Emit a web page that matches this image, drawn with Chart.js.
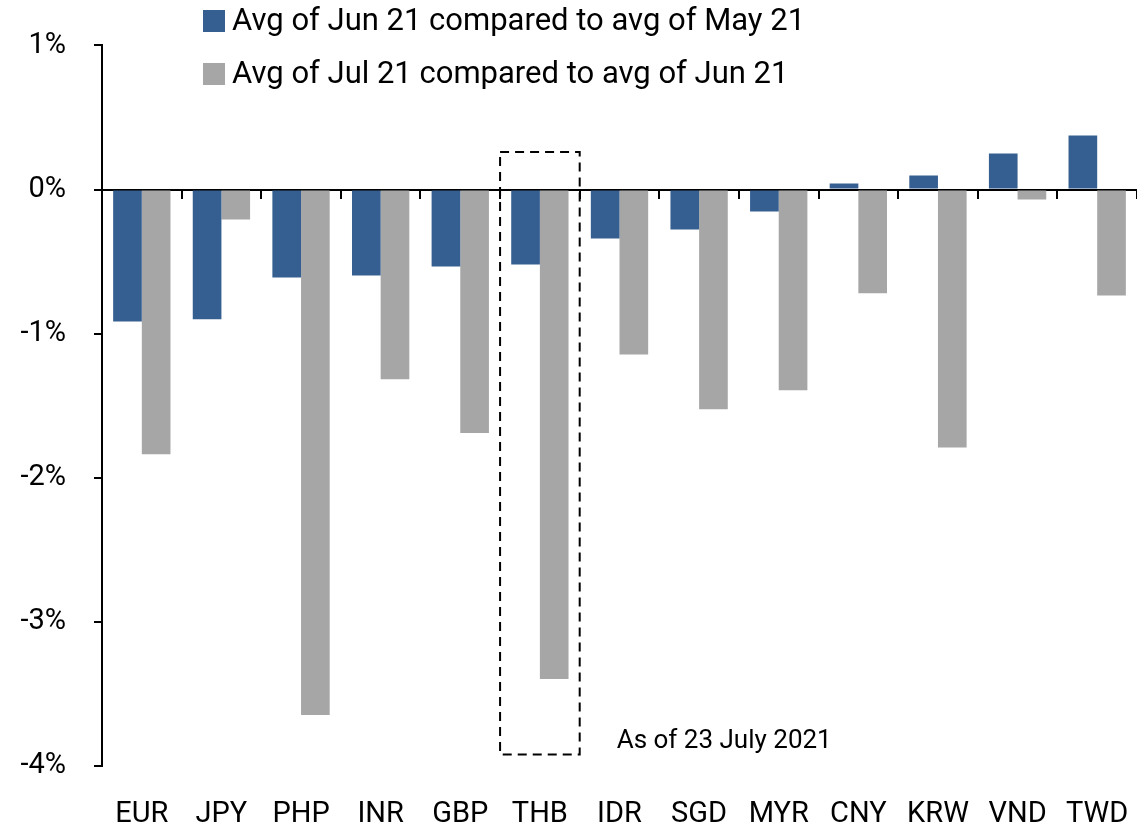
<!DOCTYPE html>
<html>
<head>
<meta charset="utf-8">
<script src="https://cdn.jsdelivr.net/npm/chart.js@4.4.1/dist/chart.umd.min.js"></script>
<style>
  html, body { margin: 0; padding: 0; background: #ffffff; }
  #wrap { width: 1137px; height: 833px; }
</style>
</head>
<body>
<div id="wrap"><canvas id="c" width="1137" height="833"></canvas></div>
<script>
const categories = ['EUR', 'JPY', 'PHP', 'INR', 'GBP', 'THB', 'IDR', 'SGD', 'MYR', 'CNY', 'KRW', 'VND', 'TWD'];
const juneVsMay = [-0.915, -0.90, -0.61, -0.596, -0.534, -0.52, -0.34, -0.277, -0.153, 0.042, 0.097, 0.25, 0.374];
const julyVsJune = [-1.837, -0.208, -3.646, -1.317, -1.69, -3.397, -1.144, -1.525, -1.393, -0.72, -1.79, -0.07, -0.735];
const seriesLabels = ['Avg of Jun 21 compared to avg of May 21', 'Avg of Jul 21 compared to avg of Jun 21'];
const yTickMin = -4;
const yTickMax = 1;
const yTickStep = 1;
const highlightCategory = 'THB';
const highlightRange = [0.26, -3.92];
const noteText = 'As of 23 July 2021';
const noteValue = -3.83;

const FONT = 'Roboto, "Open Sans", "DejaVu Sans", sans-serif';
const BLUE = '#365F91';
const GRAY = '#A6A6A6';

const legendPlugin = {
  id: 'customLegend',
  afterDraw(chart) {
    const ctx = chart.ctx;
    const x0 = chart.chartArea.left + 101;
    let yc = 21;
    ctx.save();
    ctx.font = '31px ' + FONT;
    ctx.textBaseline = 'middle';
    ctx.textAlign = 'left';
    chart.data.datasets.forEach(ds => {
      ctx.fillStyle = ds.backgroundColor;
      ctx.fillRect(x0, yc - 11, 22, 22);
      ctx.fillStyle = '#000000';
      ctx.fillText(ds.label, x0 + 29, yc + 1);
      yc += 53;
    });
    ctx.restore();
  }
};

const highlightPlugin = {
  id: 'highlightBox',
  afterDatasetsDraw(chart) {
    const xs = chart.scales.x, ys = chart.scales.y;
    const idx = categories.indexOf(highlightCategory);
    const half = xs.width / categories.length / 2;
    const cx = xs.getPixelForValue(idx);
    const left = cx - half, right = cx + half;
    const top = ys.getPixelForValue(highlightRange[0]);
    const bottom = ys.getPixelForValue(highlightRange[1]);
    const ctx = chart.ctx;
    ctx.save();
    ctx.strokeStyle = '#000000';
    ctx.lineWidth = 2;
    ctx.setLineDash([9, 6]);
    ctx.strokeRect(left, top, right - left, bottom - top);
    ctx.setLineDash([]);
    ctx.fillStyle = '#000000';
    ctx.font = '26px ' + FONT;
    ctx.textBaseline = 'middle';
    ctx.textAlign = 'left';
    ctx.fillText(noteText, right + 37, ys.getPixelForValue(noteValue));
    ctx.restore();
  }
};

function noPad(scale) { scale.paddingLeft = 0; scale.paddingRight = 0; }

new Chart(document.getElementById('c'), {
  type: 'bar',
  data: {
    labels: categories,
    datasets: [
      { label: seriesLabels[0], data: juneVsMay, backgroundColor: BLUE, xAxisID: 'x', yAxisID: 'y', borderWidth: 0 },
      { label: seriesLabels[1], data: julyVsJune, backgroundColor: GRAY, xAxisID: 'x', yAxisID: 'y', borderWidth: 0 }
    ]
  },
  options: {
    responsive: false,
    animation: false,
    events: [],
    categoryPercentage: 0.72,
    barPercentage: 1.0,
    layout: { padding: { top: 45, left: 0, right: 0, bottom: 3 } },
    plugins: {
      legend: { display: false },
      tooltip: { enabled: false },
      title: { display: false }
    },
    scales: {
      x: {
        type: 'category',
        position: { y: 0 },
        offset: true,
        afterFit(scale) { scale.height = 0; noPad(scale); },
        grid: { display: true, drawOnChartArea: false, drawTicks: true, tickLength: 8, color: '#000000', lineWidth: 2, offset: true },
        border: { display: true, color: '#000000', width: 2 },
        ticks: { display: false }
      },
      x2: {
        type: 'category',
        position: 'bottom',
        offset: true,
        afterFit(scale) { scale.height = 64; noPad(scale); },
        grid: { display: false, drawTicks: false, tickLength: 0 },
        border: { display: false },
        ticks: { color: '#000000', font: { family: FONT, size: 29 }, padding: 31, maxRotation: 0, autoSkip: false }
      },
      y: {
        min: yTickMin,
        max: yTickMax,
        afterFit(scale) { scale.width = 102; },
        grid: { display: true, drawOnChartArea: false, drawTicks: true, tickLength: 8, color: '#000000', lineWidth: 2 },
        border: { display: true, color: '#000000', width: 2 },
        ticks: {
          stepSize: yTickStep,
          color: '#000000',
          padding: 28,
          font: { family: FONT, size: 29 },
          callback: v => v + '%'
        }
      }
    }
  },
  plugins: [highlightPlugin, legendPlugin]
});
</script>
</body>
</html>
